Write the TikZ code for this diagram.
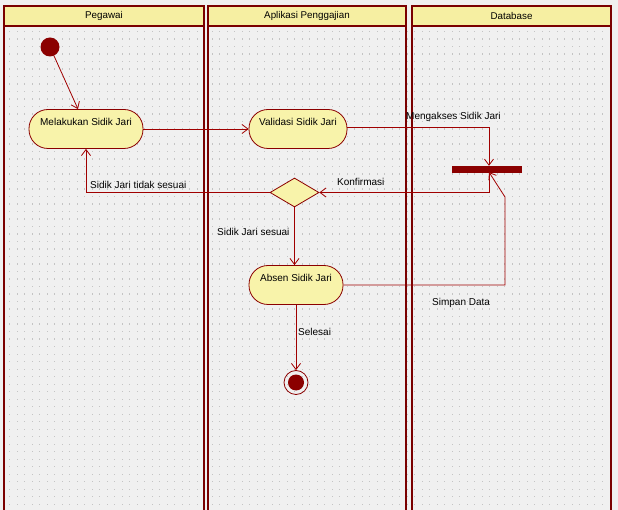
\documentclass[tikz,border=0pt]{standalone}
\usepackage{fontspec}
\setmainfont{Liberation Sans}
\usetikzlibrary{arrows.meta,shapes.geometric,calc}
\definecolor{bgc}{HTML}{F0F0F0}
\definecolor{dotc}{HTML}{C4C4C4}
\definecolor{lanec}{HTML}{7A0000}
\definecolor{linec}{HTML}{A00000}
\definecolor{headc}{HTML}{F6EFA2}
\definecolor{nodec}{HTML}{F8F3AA}
\definecolor{solidc}{HTML}{8B0000}
\tikzset{
  lane/.style={draw=lanec, line width=2.6pt},
  header/.style={draw=lanec, line width=2.6pt, fill=headc},
  headtext/.style={font=\fontsize{9.8}{11}\selectfont, inner sep=0pt},
  activity/.style={draw=solidc, line width=0.8pt, fill=nodec, rounded corners=19pt,
    minimum width=#1, minimum height=39pt, inner sep=0pt,
    text height=8pt, text depth=14pt, font=\fontsize{10}{12}\selectfont},
  decision/.style={diamond, draw=solidc, line width=0.8pt, fill=nodec,
    minimum width=49pt, minimum height=29pt, inner sep=0pt, shape aspect=1.69},
  flow/.style={draw=linec, line width=0.8pt, -{Straight Barb[length=6pt,width=9pt]}},
  lbl/.style={font=\fontsize{10}{12}\selectfont, inner sep=0pt, text=black}
}
\begin{document}
\begin{tikzpicture}[x=1pt,y=-1pt]
\useasboundingbox (0,0) rectangle (618,510);
\fill[bgc] (0,0) rectangle (618,510);
\foreach \x in {9,16.5,...,606} {
  \foreach \y in {31,38.5,...,508} {
    \fill[dotc] (\x,\y) rectangle ++(1.2,1.2);
  }
}
% lanes
\draw[lane] (4,520) -- (4,6) -- (204,6) -- (204,520);
\draw[lane] (208,520) -- (208,6) -- (406,6) -- (406,520);
\draw[lane] (412,520) -- (412,6) -- (611,6) -- (611,520);
\draw[header] (4,6) rectangle (204,26);
\draw[header] (208,6) rectangle (406,26);
\draw[header] (412,6) rectangle (611,26);
\node[headtext] (h1) at (104,16) {Pegawai};
\node[headtext] (h2) at (307,16) {Aplikasi Penggajian};
\node[headtext] (h3) at (511.5,16) {Database};

% nodes
\node[circle, fill=solidc, minimum size=19pt, inner sep=0pt] (init) at (50,47) {};
\node[activity=114pt] (mel) at (86,129) {Melakukan Sidik Jari};
\node[activity=98pt] (val) at (298,129) {Validasi Sidik Jari};
\node[decision] (dia) at (294.5,192.5) {};
\node[activity=94pt] (abs) at (296,285) {Absen Sidik Jari};
\node[draw=solidc, fill=solidc, minimum width=69pt, minimum height=6pt, inner sep=0pt] (bar) at (487,169) {};
\node[circle, draw=solidc, line width=0.8pt, minimum size=24pt, inner sep=0pt] (fin) at (296,382.5) {};
\fill[solidc] (fin.center) circle (8pt);
\coordinate (c1) at (505,197);

% connectors
\draw[flow] (init) -- ([xshift=-8pt]mel.north);
\draw[flow] (mel.east) -- (val.west);
\draw[flow] ([yshift=2pt]val.east) -| ([xshift=2pt]bar.north);
\draw[flow] ([xshift=2pt]bar.south) |- (dia.east);
\draw[flow] (dia.west) -| (mel.south);
\draw[flow] (dia.south) -- (dia.south |- abs.north);
\draw[flow] (abs.east) -| (c1) -- ([xshift=2pt]bar.south);
\draw[flow] (abs.south) -- (fin.north);

% labels
\node[lbl, anchor=west] (l1) at (406,117) {Mengakses Sidik Jari};
\node[lbl, anchor=west] (l2) at (337,182) {Konfirmasi};
\node[lbl, anchor=west] (l3) at (90,185) {Sidik Jari tidak sesuai};
\node[lbl, anchor=west] (l4) at (217,232) {Sidik Jari sesuai};
\node[lbl, anchor=west] (l5) at (432,303) {Simpan Data};
\node[lbl, anchor=west] (l6) at (298,332) {Selesai};
\end{tikzpicture}
\end{document}
